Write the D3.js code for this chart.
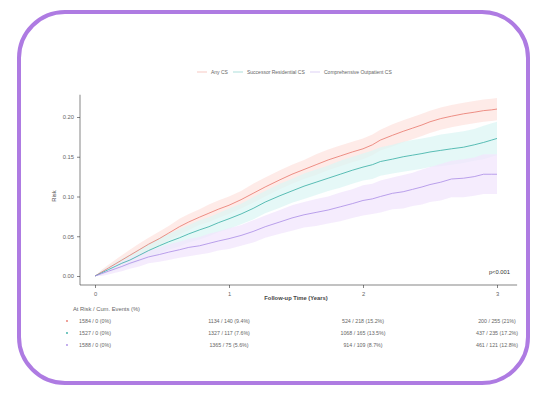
<!DOCTYPE html>
<html>
<head>
<meta charset="utf-8">
<script src="https://cdn.jsdelivr.net/npm/d3@7"></script>
<style>
  html, body { margin: 0; padding: 0; background: #ffffff; }
  svg { display: block; }
  text { font-family: "Liberation Sans", Arial, sans-serif; }
</style>
</head>
<body>
<svg id="chart" width="538" height="393"></svg>
<script>
// Follow-up times (years) at which the cumulative-incidence estimates are recorded
const times = [0, 0.05, 0.1, 0.15, 0.2, 0.26, 0.33, 0.4, 0.48, 0.55, 0.63, 0.7, 0.78, 0.85, 0.92, 1.0,
  1.09, 1.18, 1.27, 1.38, 1.47, 1.56, 1.65, 1.74, 1.83, 1.92, 2.0, 2.07, 2.13, 2.22, 2.3, 2.37,
  2.44, 2.5, 2.58, 2.66, 2.75, 2.83, 2.9, 2.96, 3.0];

// Cumulative risk estimates per group
const anyRisk = [0, .005, .010, .015, .020, .026, .033, .040, .047, .054, .062, .068, .074, .079, .084, .089,
  .096, .104, .112, .121, .128, .134, .140, .146, .151, .156, .160, .165, .171, .177, .182, .186,
  .190, .194, .198, .201, .204, .206, .208, .209, .210];
const residentialRisk = [0, .004, .008, .012, .016, .020, .026, .032, .038, .043, .048, .053, .058, .062, .067, .072,
  .078, .085, .093, .101, .107, .113, .118, .123, .128, .133, .137, .140, .144, .147, .150, .152,
  .154, .156, .158, .160, .162, .165, .168, .171, .173];
const outpatientRisk = [0, .003, .006, .009, .012, .016, .020, .024, .027, .030, .033, .036, .038, .041, .044, .047,
  .051, .056, .062, .068, .073, .077, .080, .083, .087, .091, .095, .097, .100, .104, .106, .109,
  .112, .115, .118, .122, .123, .125, .128, .128, .128];

// Half-widths of the 95% confidence bands
const anyCI = [0, .003, .004, .005, .006, .007, .008, .008, .009, .009, .010, .010, .010, .011, .011, .011,
  .011, .012, .012, .012, .012, .012, .013, .013, .013, .013, .013, .013, .013, .014, .014, .014,
  .014, .014, .014, .014, .014, .014, .014, .014, .014];
const residentialCI = [0, .003, .004, .005, .006, .007, .008, .009, .010, .010, .011, .011, .012, .012, .012, .013,
  .013, .014, .014, .015, .015, .016, .016, .016, .017, .017, .017, .018, .018, .018, .019, .019,
  .019, .019, .020, .020, .020, .020, .021, .021, .021];
const outpatientCI = [0, .003, .004, .005, .006, .007, .008, .008, .009, .010, .010, .011, .011, .012, .012, .013,
  .013, .014, .014, .015, .016, .016, .017, .017, .018, .018, .019, .019, .020, .020, .021, .021,
  .022, .022, .023, .023, .024, .024, .025, .025, .025];

const groupNames = ["Any CS", "Successor Residential CS", "Comprehensive Outpatient CS"];
const groupColors = ["#e8766b", "#35ada3", "#a98be6"];
const bandColors = ["#fde4e0", "#dcf5f4", "#f1e5fc"];

const xTicks = [0, 1, 2, 3];
const yTicks = [0, 0.05, 0.10, 0.15, 0.20];

// Numbers at risk / cumulative events at each yearly tick
const riskTable = [
  ["1584 / 0 (0%)", "1134 / 140 (9.4%)", "524 / 218 (15.2%)", "200 / 255 (21%)"],
  ["1527 / 0 (0%)", "1327 / 117 (7.6%)", "1068 / 165 (13.5%)", "437 / 235 (17.2%)"],
  ["1588 / 0 (0%)", "1365 / 75 (5.6%)", "914 / 109 (8.7%)", "461 / 121 (12.8%)"]
];

const pValue = "p<0.001";

const svg = d3.select("#chart");

// rounded card frame
svg.append("rect")
  .attr("x", 19).attr("y", 12)
  .attr("width", 509).attr("height", 371)
  .attr("rx", 46).attr("ry", 46)
  .attr("fill", "#ffffff")
  .attr("stroke", "#ae7be2")
  .attr("stroke-width", 4);

const x = d3.scaleLinear().domain([0, 3]).range([95, 497]);
const y = d3.scaleLinear().domain([0, 0.2]).range([276, 117]);

const g = svg.append("g");

const series = [
  { est: anyRisk, ci: anyCI },
  { est: residentialRisk, ci: residentialCI },
  { est: outpatientRisk, ci: outpatientCI }
];

const area = d3.area()
  .x(d => x(d.t))
  .y0(d => y(Math.max(0, d.v - d.c)))
  .y1(d => y(d.v + d.c));

const line = d3.line()
  .x(d => x(d.t))
  .y(d => y(d.v));

const pts = series.map(s => times.map((t, i) => ({ t, v: s.est[i], c: s.ci[i] })));

pts.forEach((p, i) => {
  g.append("path").attr("d", area(p))
    .attr("fill", bandColors[i]).attr("fill-opacity", 0.75);
});
pts.forEach((p, i) => {
  g.append("path").attr("d", line(p))
    .attr("fill", "none").attr("stroke", groupColors[i]).attr("stroke-width", 0.8);
});

// axes
const axisColor = "#333";
const xAxis = g.append("g").attr("transform", "translate(0,285)")
  .call(d3.axisBottom(x).tickValues(xTicks).tickFormat(d3.format("d")).tickSize(3).tickSizeOuter(0));
xAxis.select(".domain").attr("d", `M${x(-0.112)},0H${x(3.15)}`);
const yAxis = g.append("g").attr("transform", "translate(80,0)")
  .call(d3.axisLeft(y).tickValues(yTicks).tickFormat(d3.format(".2f")).tickSize(3).tickSizeOuter(0));
yAxis.select(".domain").attr("d", `M0,${y(0.228)}V${y(-0.0113)}`);
[xAxis, yAxis].forEach(a => {
  a.selectAll("path, line").attr("stroke", axisColor).attr("stroke-width", 0.6);
  a.selectAll("text").attr("fill", "#666").attr("font-size", 5.8)
    .attr("font-family", "Liberation Sans, Arial, sans-serif");
});
xAxis.selectAll("text").attr("dy", "0.9em");

// axis titles
g.append("text").attr("x", 296).attr("y", 300).attr("text-anchor", "middle")
  .attr("font-size", 5.8).attr("font-weight", "bold").attr("fill", "#444")
  .text("Follow-up Time (Years)");
g.append("text").attr("transform", "translate(56,196) rotate(-90)").attr("text-anchor", "middle")
  .attr("font-size", 5.8).attr("fill", "#444").text("Risk");

g.append("text").attr("x", 510).attr("y", 274).attr("text-anchor", "end")
  .attr("font-size", 5.8).attr("fill", "#333").text(pValue);

// legend
const legendX = [197, 233, 310];
groupNames.forEach((name, i) => {
  const lg = g.append("g").attr("transform", `translate(${legendX[i]},72)`);
  lg.append("line").attr("x1", 0).attr("x2", 10).attr("y1", 0).attr("y2", 0)
    .attr("stroke", groupColors[i]).attr("stroke-opacity", 0.45).attr("stroke-width", 0.9);
  lg.append("text").attr("x", 14).attr("y", 2).attr("font-size", 5).attr("fill", "#666").text(name);
});

// risk table
g.append("text").attr("x", 73).attr("y", 311).attr("font-size", 5.8).attr("fill", "#666")
  .text("At Risk / Cum. Events (%)");
const rowY = [323, 335, 347];
riskTable.forEach((row, r) => {
  g.append("circle").attr("cx", 67).attr("cy", rowY[r] - 2).attr("r", 0.9)
    .attr("fill", groupColors[r]);
  row.forEach((txt, c) => {
    g.append("text").attr("x", x(xTicks[c])).attr("y", rowY[r])
      .attr("text-anchor", "middle").attr("font-size", 5.3).attr("fill", "#666")
      .text(txt);
  });
});
</script>
</body>
</html>
